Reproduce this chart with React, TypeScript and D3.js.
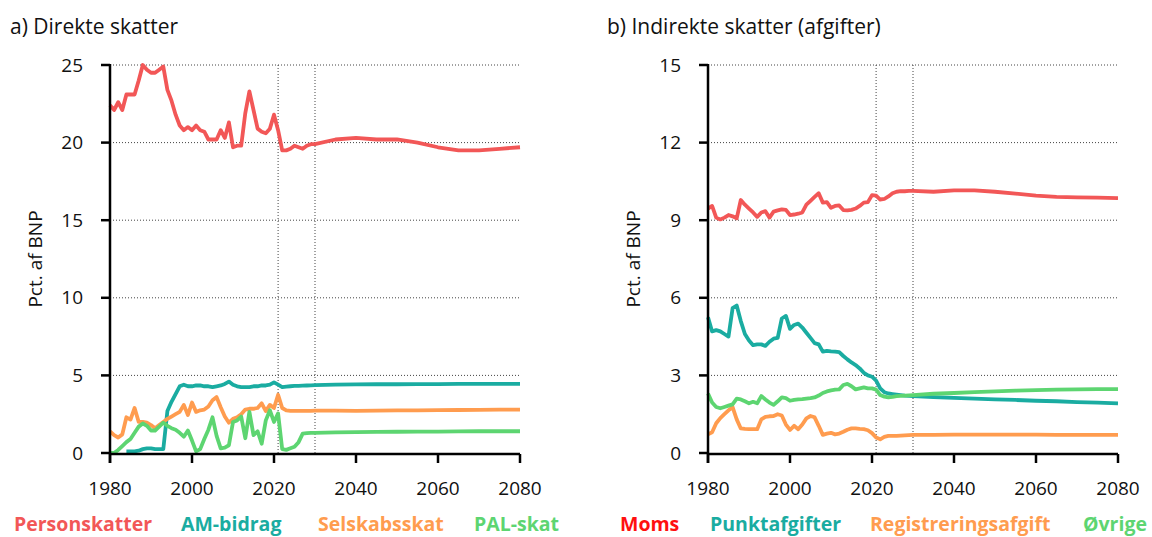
import React from "react";
import * as d3 from "d3";

// years: annual to 2030, then every 5th year
const years = [
  1980, 1981, 1982, 1983, 1984, 1985, 1986, 1987, 1988, 1989,
  1990, 1991, 1992, 1993, 1994, 1995, 1996, 1997, 1998, 1999,
  2000, 2001, 2002, 2003, 2004, 2005, 2006, 2007, 2008, 2009,
  2010, 2011, 2012, 2013, 2014, 2015, 2016, 2017, 2018, 2019,
  2020, 2021, 2022, 2023, 2024, 2025, 2026, 2027, 2028, 2029, 2030,
  2035, 2040, 2045, 2050, 2055, 2060, 2065, 2070, 2075, 2080,
];
const xTicks = [1980, 2000, 2020, 2040, 2060, 2080];
const markerYears = [2021, 2030];
const directTicks = [0, 5, 10, 15, 20, 25];
const indirectTicks = [0, 3, 6, 9, 12, 15];

const personskatter = [
  22.4, 22.1, 22.6, 22.1, 23.1, 23.1, 23.1, 24.0, 25.0, 24.7,
  24.5, 24.5, 24.7, 24.9, 23.4, 22.7, 21.8, 21.1, 20.8, 21.0,
  20.8, 21.1, 20.8, 20.7, 20.2, 20.2, 20.2, 20.8, 20.3, 21.3,
  19.7, 19.8, 19.8, 21.9, 23.3, 22.1, 20.9, 20.7, 20.6, 20.9,
  21.8, 20.8, 19.5, 19.5, 19.6, 19.8, 19.7, 19.6, 19.8, 19.9, 19.9,
  20.2, 20.3, 20.2, 20.2, 20.0, 19.7, 19.5, 19.5, 19.6, 19.7,
];
const amBidrag = [
  null, null, null, null, 0.1, 0.1, 0.1, 0.15, 0.25, 0.3,
  0.3, 0.25, 0.25, 0.25, 2.7, 3.3, 3.8, 4.3, 4.4, 4.3,
  4.3, 4.35, 4.35, 4.3, 4.3, 4.25, 4.3, 4.35, 4.45, 4.6,
  4.4, 4.3, 4.25, 4.25, 4.25, 4.3, 4.3, 4.35, 4.35, 4.4,
  4.55, 4.4, 4.25, 4.28, 4.3, 4.32, 4.33, 4.34, 4.35, 4.36, 4.37,
  4.4, 4.42, 4.43, 4.43, 4.44, 4.44, 4.45, 4.45, 4.45, 4.45,
];
const selskabsskat = [
  1.4, 1.15, 1.0, 1.2, 2.3, 2.15, 2.9, 2.0, 2.0, 1.95,
  1.8, 1.6, 1.8, 2.0, 2.2, 2.35, 2.5, 2.65, 3.1, 2.45,
  3.25, 2.65, 2.75, 2.8, 3.0, 3.4, 3.6, 2.95, 2.35, 1.95,
  2.2, 2.3, 2.5, 2.8, 2.85, 2.85, 2.9, 3.2, 2.7, 3.1,
  2.9, 3.75, 2.9, 2.75, 2.72, 2.72, 2.72, 2.72, 2.72, 2.72, 2.73,
  2.73, 2.72, 2.73, 2.74, 2.75, 2.76, 2.77, 2.78, 2.79, 2.8,
];
const palSkat = [
  0, 0, 0.2, 0.45, 0.7, 0.9, 1.3, 1.7, 1.9, 1.75,
  1.45, 1.45, 1.7, 1.95, 1.75, 1.6, 1.5, 1.3, 1.05, 1.45,
  0.8, 0.1, 0.25, 0.9, 1.5, 2.3, 1.1, 0.3, 0.35, 0.5,
  2.0, 2.1, 2.35, 0.95, 2.65, 1.15, 1.4, 0.6, 2.1, 2.75,
  2.0, 2.55, 0.25, 0.2, 0.3, 0.4, 0.7, 1.25, 1.28, 1.3, 1.3,
  1.33, 1.35, 1.36, 1.37, 1.38, 1.38, 1.39, 1.4, 1.4, 1.4,
];

const moms = [
  9.45, 9.55, 9.1, 9.03, 9.1, 9.2, 9.15, 9.07, 9.78, 9.6,
  9.45, 9.3, 9.13, 9.3, 9.35, 9.1, 9.33, 9.38, 9.42, 9.4,
  9.2, 9.22, 9.25, 9.3, 9.6, 9.75, 9.9, 10.04, 9.68, 9.7,
  9.48, 9.55, 9.57, 9.39, 9.38, 9.4, 9.45, 9.55, 9.68, 9.7,
  9.97, 9.95, 9.8, 9.82, 9.92, 10.04, 10.1, 10.12, 10.12, 10.13, 10.13,
  10.1, 10.15, 10.15, 10.1, 10.03, 9.95, 9.9, 9.88, 9.87, 9.85,
];
const punktafgifter = [
  5.25, 4.7, 4.75, 4.7, 4.6, 4.5, 5.6, 5.7, 5.1, 4.6,
  4.35, 4.17, 4.2, 4.2, 4.14, 4.3, 4.42, 4.45, 5.2, 5.3,
  4.8, 4.95, 5.0, 4.85, 4.65, 4.45, 4.25, 4.2, 3.92, 3.95,
  3.93, 3.92, 3.9, 3.75, 3.62, 3.5, 3.4, 3.27, 3.1, 3.0,
  2.95, 2.8, 2.5, 2.35, 2.3, 2.28, 2.26, 2.24, 2.22, 2.21, 2.2,
  2.16, 2.13, 2.1, 2.07, 2.05, 2.02, 2.0, 1.97, 1.95, 1.92,
];
const registreringsafgift = [
  0.72, 0.8, 1.15, 1.35, 1.5, 1.65, 1.77, 1.3, 0.95, 0.93,
  0.92, 0.92, 0.92, 1.3, 1.4, 1.42, 1.43, 1.5, 1.45, 1.1,
  0.89, 1.05, 0.92, 1.1, 1.34, 1.43, 1.38, 1.05, 0.7, 0.75,
  0.78, 0.72, 0.75, 0.82, 0.9, 0.95, 0.95, 0.93, 0.92, 0.88,
  0.77, 0.6, 0.53, 0.62, 0.66, 0.66, 0.66, 0.67, 0.68, 0.69, 0.7,
  0.7, 0.71, 0.71, 0.71, 0.71, 0.71, 0.7, 0.7, 0.7, 0.7,
];
const oevrige = [
  2.3, 1.95, 1.78, 1.73, 1.78, 1.83, 1.88, 2.1, 2.07, 2.0,
  1.92, 1.98, 1.92, 2.2, 2.07, 1.95, 1.86, 2.0, 2.15, 2.12,
  2.02, 2.05, 2.07, 2.08, 2.1, 2.12, 2.15, 2.22, 2.32, 2.38,
  2.42, 2.45, 2.46, 2.63, 2.67, 2.58, 2.46, 2.5, 2.54, 2.5,
  2.5, 2.45, 2.24, 2.18, 2.15, 2.17, 2.2, 2.21, 2.22, 2.23, 2.24,
  2.29, 2.32, 2.35, 2.38, 2.41, 2.43, 2.45, 2.46, 2.47, 2.47,
];

const RED = "#f25757";
const TEAL = "#1aaca1";
const ORANGE = "#ff9c4f";
const GREEN = "#5dd571";

const directSeries = [
  { name: "Personskatter", values: personskatter, color: RED, label: RED },
  { name: "AM-bidrag", values: amBidrag, color: TEAL, label: TEAL },
  { name: "Selskabsskat", values: selskabsskat, color: ORANGE, label: ORANGE },
  { name: "PAL-skat", values: palSkat, color: GREEN, label: GREEN },
];
const indirectSeries = [
  { name: "Moms", values: moms, color: RED, label: "#ff1010" },
  { name: "Punktafgifter", values: punktafgifter, color: TEAL, label: TEAL },
  { name: "Registreringsafgift", values: registreringsafgift, color: ORANGE, label: ORANGE },
  { name: "Øvrige", values: oevrige, color: GREEN, label: GREEN },
];

const FONT = "'Open Sans', sans-serif";

const Panel = ({ x0, title, titleX, series, yMax, yTicks, legendX }: any) => {
  const top = 65;
  const bottom = 453;
  const axisY = 454;
  const x = d3.scaleLinear().domain([1980, 2080]).range([x0, x0 + 410]);
  const y = d3.scaleLinear().domain([0, yMax]).range([bottom, top]);
  const line = d3
    .line<any>()
    .defined((d) => d[1] !== null)
    .x((d) => x(d[0]))
    .y((d) => y(d[1]));

  return (
    <g>
      <text x={titleX} y={34} fontSize={21} fontFamily={FONT} fill="#111">
        {title}
      </text>
      {/* grid */}
      {yTicks
        .filter((t: number) => t > 0)
        .map((t: number) => (
          <line key={"g" + t} x1={x0} x2={x0 + 410} y1={y(t)} y2={y(t)}
            stroke="#444" strokeWidth={1} strokeDasharray="1,2" />
        ))}
      {markerYears.map((yr) => (
        <line key={"m" + yr} x1={x(yr)} x2={x(yr)} y1={top} y2={axisY}
          stroke="#444" strokeWidth={1} strokeDasharray="1,2" />
      ))}
      {/* series */}
      {series.map((s: any) => (
        <path key={s.name} d={line(years.map((yr, i) => [yr, s.values[i]])) || ""}
          fill="none" stroke={s.color} strokeWidth={3.8} strokeLinejoin="round" />
      ))}
      {/* y axis */}
      <line x1={x0} x2={x0} y1={top - 1} y2={axisY + 9} stroke="#000" strokeWidth={2.5} />
      {yTicks.map((t: number) => (
        <g key={"y" + t}>
          <line x1={x0 - 9} x2={x0} y1={y(t)} y2={y(t)} stroke="#000" strokeWidth={2.5} />
          <text x={x0 - 27} y={y(t)} dy="0.35em" textAnchor="end" fontSize={19}
            fontFamily={FONT} fill="#111">{t}</text>
        </g>
      ))}
      <text transform={`translate(${x0 - 75},${(top + bottom) / 2}) rotate(-90)`}
        textAnchor="middle" dy="0.35em" fontSize={19} fontFamily={FONT} fill="#111">
        Pct. af BNP
      </text>
      {/* x axis */}
      <line x1={x0} x2={x0 + 410} y1={axisY} y2={axisY} stroke="#000" strokeWidth={2.5} />
      {xTicks.map((t) => (
        <g key={"x" + t}>
          <line x1={x(t)} x2={x(t)} y1={axisY} y2={axisY + 9} stroke="#000" strokeWidth={2.5} />
          <text x={x(t)} y={495} textAnchor="middle" fontSize={19} fontFamily={FONT} fill="#111">
            {t}
          </text>
        </g>
      ))}
      {/* legend */}
      {series.map((s: any, i: number) => (
        <text key={"l" + s.name} x={legendX[i]} y={531} fontSize={19.5} fontWeight="bold"
          fontFamily={FONT} fill={s.label}>
          {s.name}
        </text>
      ))}
    </g>
  );
};

export default function App() {
  return (
    <svg width={1152} height={537} style={{ position: "absolute", left: 0, top: 0, background: "#fff" }}>
      <rect width={1152} height={537} fill="#fff" />
      <Panel x0={110} title="a) Direkte skatter" titleX={10} series={directSeries}
        yMax={25} yTicks={directTicks} legendX={[14, 181, 318, 474]} />
      <Panel x0={708} title="b) Indirekte skatter (afgifter)" titleX={607} series={indirectSeries}
        yMax={15} yTicks={indirectTicks} legendX={[620, 710, 870, 1083]} />
    </svg>
  );
}
